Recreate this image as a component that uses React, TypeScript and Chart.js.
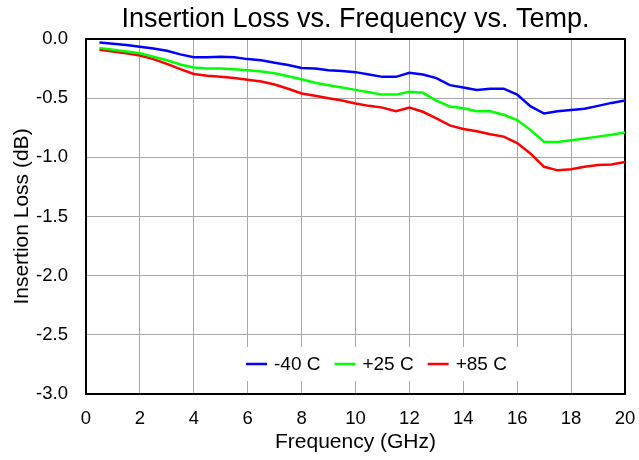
import React, { useEffect, useRef } from "react";
import { Chart, registerables } from "chart.js";

Chart.register(...registerables);

const chartTitle = "Insertion Loss vs. Frequency vs. Temp.";
const xAxisTitle = "Frequency (GHz)";
const yAxisTitle = "Insertion Loss (dB)";

const freqGHz = [
  0.5, 1.0, 1.5, 2.0, 2.5, 3.0, 3.5, 4.0, 4.5, 5.0,
  5.5, 6.0, 6.5, 7.0, 7.5, 8.0, 8.5, 9.0, 9.5, 10.0,
  10.5, 11.0, 11.5, 12.0, 12.5, 13.0, 13.5, 14.0, 14.5, 15.0,
  15.5, 16.0, 16.5, 17.0, 17.5, 18.0, 18.5, 19.0, 19.5, 20.0,
];

const lossMinus40 = [
  -0.03, -0.04, -0.05, -0.065, -0.08, -0.1, -0.13, -0.155, -0.155, -0.15,
  -0.155, -0.17, -0.18, -0.2, -0.22, -0.245, -0.25, -0.265, -0.27, -0.28,
  -0.3, -0.32, -0.32, -0.285, -0.3, -0.33, -0.39, -0.41, -0.43, -0.42,
  -0.42, -0.47, -0.57, -0.63, -0.61, -0.6, -0.59, -0.565, -0.54, -0.52,
];

const lossPlus25 = [
  -0.075, -0.09, -0.105, -0.12, -0.15, -0.18, -0.215, -0.24, -0.25, -0.25,
  -0.255, -0.265, -0.275, -0.29, -0.315, -0.34, -0.37, -0.39, -0.41, -0.43,
  -0.45, -0.47, -0.47, -0.445, -0.455, -0.52, -0.57, -0.585, -0.61, -0.61,
  -0.64, -0.685, -0.77, -0.87, -0.87, -0.855, -0.84, -0.825, -0.81, -0.79,
];

const lossPlus85 = [
  -0.09, -0.105, -0.12, -0.14, -0.17, -0.21, -0.255, -0.295, -0.31, -0.32,
  -0.33, -0.345, -0.36, -0.385, -0.42, -0.46, -0.48, -0.5, -0.52, -0.545,
  -0.565, -0.58, -0.61, -0.58, -0.615, -0.67, -0.73, -0.76, -0.78, -0.805,
  -0.825, -0.88, -0.97, -1.08, -1.11, -1.1, -1.08, -1.065, -1.06, -1.04,
];

const seriesLabels = ["-40 C", "+25 C", "+85 C"];
const seriesColors = ["#0000ff", "#00ff00", "#ff0000"];

const FONT = '"Liberation Sans", Arial, Helvetica, sans-serif';

const frameBorder = {
  id: "frameBorder",
  beforeDatasetsDraw(chart: any) {
    const { ctx, chartArea } = chart;
    ctx.save();
    ctx.strokeStyle = "#000000";
    ctx.lineWidth = 2;
    ctx.strokeRect(
      chartArea.left,
      chartArea.top,
      chartArea.right - chartArea.left,
      chartArea.bottom - chartArea.top
    );
    ctx.restore();
  },
};

const insideLegend = {
  id: "insideLegend",
  afterDatasetsDraw(chart: any) {
    const { ctx, chartArea } = chart;
    const datasets = chart.data.datasets;
    ctx.save();
    ctx.font = `19px ${FONT}`;
    const swatch = 21;
    const gapText = 7;
    const gapItem = 14;
    const widths = datasets.map((d: any) => ctx.measureText(d.label).width);
    let total = 0;
    widths.forEach((w: number, i: number) => {
      total += swatch + gapText + w + (i > 0 ? gapItem : 0);
    });
    const startX = chartArea.left + 160;
    const cy = chartArea.bottom - 30;
    ctx.fillStyle = "#ffffff";
    ctx.fillRect(startX - 8, cy - 17, total + 20, 34);
    let x = startX;
    datasets.forEach((d: any, i: number) => {
      ctx.strokeStyle = d.borderColor;
      ctx.lineWidth = 2.5;
      ctx.beginPath();
      ctx.moveTo(x, cy);
      ctx.lineTo(x + swatch, cy);
      ctx.stroke();
      ctx.fillStyle = "#000000";
      ctx.textBaseline = "middle";
      ctx.textAlign = "left";
      ctx.fillText(d.label, x + swatch + gapText, cy + 1);
      x += swatch + gapText + widths[i] + gapItem;
    });
    ctx.restore();
  },
};

export default function App() {
  const canvasRef = useRef<HTMLCanvasElement | null>(null);

  useEffect(() => {
    if (!canvasRef.current) return;
    const series = [lossMinus40, lossPlus25, lossPlus85];
    const chart = new Chart(canvasRef.current, {
      type: "line",
      data: {
        datasets: series.map((vals, i) => ({
          label: seriesLabels[i],
          data: freqGHz.map((f, j) => ({ x: f, y: vals[j] })),
          borderColor: seriesColors[i],
          backgroundColor: seriesColors[i],
          borderWidth: 2.5,
          pointRadius: 0,
          tension: 0,
          fill: false,
        })),
      },
      options: {
        animation: false,
        responsive: true,
        maintainAspectRatio: false,
        layout: { padding: { top: 0, right: 0, bottom: 0, left: 0 } },
        plugins: {
          legend: { display: false },
          tooltip: { enabled: false },
          title: {
            display: true,
            text: chartTitle,
            fullSize: false,
            color: "#000000",
            font: { family: FONT, size: 27, weight: "normal" },
            padding: { top: 3.5, bottom: 3.1 },
          },
        },
        scales: {
          x: {
            type: "linear",
            min: 0,
            max: 20,
            ticks: {
              stepSize: 2,
              color: "#000000",
              padding: 14,
              font: { family: FONT, size: 18.5 },
            },
            grid: { color: "#a8a8a8", lineWidth: 1, drawTicks: false },
            border: { display: false },
            title: {
              display: true,
              text: xAxisTitle,
              color: "#000000",
              font: { family: FONT, size: 21 },
              padding: 5.4,
            },
            afterFit(scale: any) {
              scale.height = 66;
              scale.paddingRight = 14;
              scale.paddingLeft = 0;
            },
          },
          y: {
            type: "linear",
            min: -3,
            max: 0,
            ticks: {
              stepSize: 0.5,
              color: "#000000",
              padding: 18,
              font: { family: FONT, size: 18.5 },
              callback: (v: any) => Number(v).toFixed(1),
            },
            grid: { color: "#a8a8a8", lineWidth: 1, drawTicks: false },
            border: { display: false },
            title: {
              display: true,
              text: yAxisTitle,
              color: "#000000",
              font: { family: FONT, size: 21 },
              padding: 9.4,
            },
            afterFit(scale: any) {
              scale.width = 86;
            },
          },
        },
      },
      plugins: [frameBorder, insideLegend],
    });
    return () => chart.destroy();
  }, []);

  return (
    <div style={{ position: "absolute", left: 0, top: 0, width: 639, height: 460, background: "#ffffff" }}>
      <canvas ref={canvasRef} />
    </div>
  );
}
